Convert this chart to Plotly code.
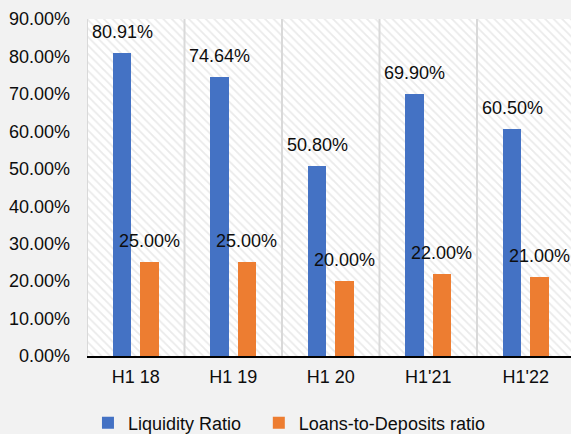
import plotly.graph_objects as go

categories = ["H1 18", "H1 19", "H1 20", "H1'21", "H1'22"]
liquidity_ratio = [80.91, 74.64, 50.80, 69.90, 60.50]
loans_to_deposits = [25.00, 25.00, 20.00, 22.00, 21.00]
series_names = ["Liquidity Ratio", "Loans-to-Deposits ratio"]
y_max = 90

BLUE = "#4472C4"
ORANGE = "#ED7D31"
BG = "#F2F2F2"
FONT = "Liberation Sans, Arial, sans-serif"
TEXT = "#0d0d0d"

fig = go.Figure()

# hatched background panels, one per category
fig.add_trace(go.Bar(
    x=categories, y=[y_max] * len(categories), width=1,
    marker=dict(color="white", line=dict(width=0),
                pattern=dict(shape="\\", fgcolor="#d6d6d6", bgcolor="white",
                             size=6, solidity=0.3)),
    hoverinfo="skip", showlegend=False,
))

fig.add_trace(go.Bar(
    x=categories, y=liquidity_ratio, name=series_names[0], legend="legend",
    width=0.19, offset=-0.235, marker=dict(color=BLUE, line=dict(width=0)),
))
fig.add_trace(go.Bar(
    x=categories, y=loans_to_deposits, name=series_names[1], legend="legend2",
    width=0.19, offset=0.045, marker=dict(color=ORANGE, line=dict(width=0)),
))

annotations = []
for i, v in enumerate(liquidity_ratio):
    annotations.append(dict(x=i - 0.14, y=v, xref="x", yref="y", text=f"{v:.2f}%",
                            showarrow=False, yanchor="middle", yshift=21,
                            font=dict(size=18, color=TEXT, family=FONT)))
for i, v in enumerate(loans_to_deposits):
    annotations.append(dict(x=i + 0.14, y=v, xref="x", yref="y", text=f"{v:.2f}%",
                            showarrow=False, yanchor="middle", yshift=21,
                            font=dict(size=18, color=TEXT, family=FONT)))

shapes = []
for i in range(len(categories) + 1):
    shapes.append(dict(type="line", xref="x", yref="y", x0=i - 0.5, x1=i - 0.5,
                       y0=0, y1=y_max, line=dict(color="#d9d9d9", width=2),
                       layer="above"))

legend_common = dict(orientation="h", xanchor="left", yanchor="middle",
                     yref="container", xref="paper", y=0.0253,
                     font=dict(size=18, color=TEXT, family=FONT),
                     bgcolor="rgba(0,0,0,0)", itemwidth=30)

fig.update_layout(
    width=571, height=434, autosize=False,
    margin=dict(l=87, r=0, t=19, b=78, pad=0, autoexpand=False),
    paper_bgcolor=BG, plot_bgcolor=BG,
    barmode="overlay",
    font=dict(family=FONT, size=18, color=TEXT),
    showlegend=True,
    legend=dict(x=0.002, **legend_common),
    legend2=dict(x=0.355, **legend_common),
    annotations=annotations,
    shapes=shapes,
    bargap=0,
)

fig.update_xaxes(
    type="category", range=[-0.5, len(categories) - 0.536],
    showgrid=False, zeroline=False, ticks="",
    showline=True, linecolor="black", linewidth=2,
    ticklabelstandoff=3,
    tickfont=dict(size=18, color=TEXT, family=FONT),
)
fig.update_yaxes(
    range=[0, y_max], dtick=10, tickformat=".2f", ticksuffix="%",
    showgrid=False, zeroline=False, ticks="", showline=False,
    ticklabelstandoff=16,
    tickfont=dict(size=18, color=TEXT, family=FONT),
)

fig.write_html("out.html")
